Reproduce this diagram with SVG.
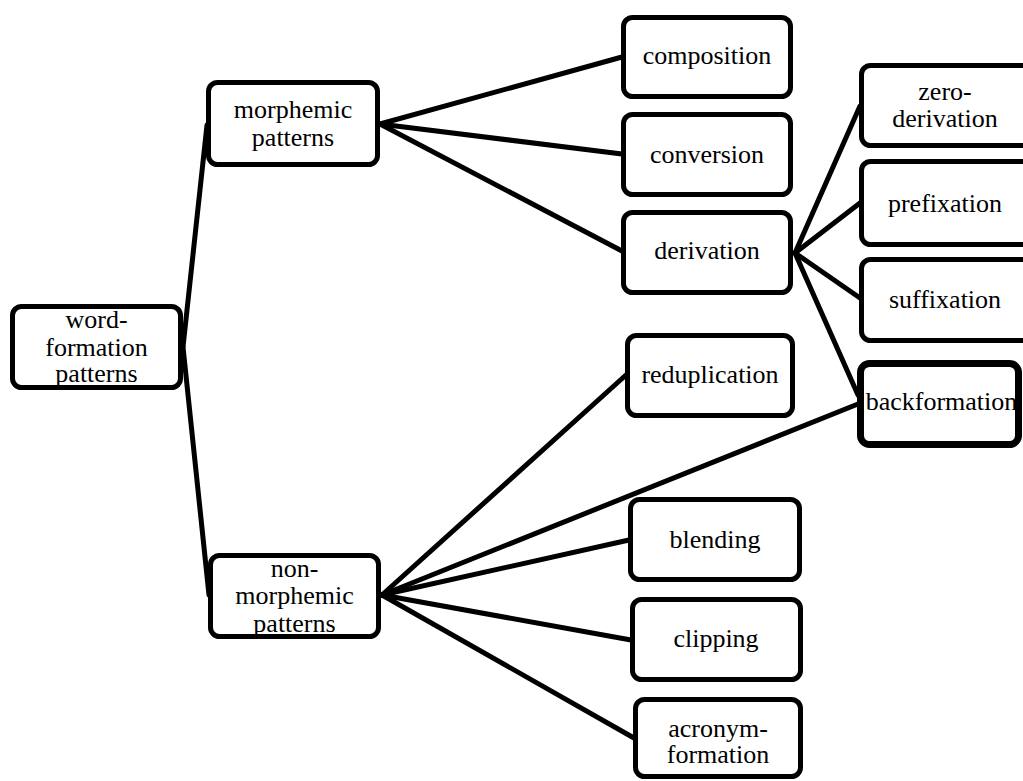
<svg xmlns="http://www.w3.org/2000/svg" width="1023" height="781" viewBox="0 0 1023 781">
<style>
.box{fill:#fff;stroke:#000;stroke-width:5}
.thick{stroke-width:7}
text{font-family:'Liberation Serif','Times New Roman',serif;font-size:26px;fill:#000;text-anchor:middle}
.con line{stroke:#000;stroke-width:5;stroke-linecap:round}
</style>
<rect width="1023" height="781" fill="#fff"/>
<g id="connectors" class="con">
<line x1="183" y1="347" x2="207" y2="125"/>
<line x1="183" y1="347" x2="209" y2="595"/>
<line x1="380" y1="124" x2="622" y2="57"/>
<line x1="380" y1="124" x2="622" y2="154"/>
<line x1="380" y1="124" x2="622" y2="251"/>
<line x1="795" y1="253" x2="860" y2="106"/>
<line x1="795" y1="253" x2="860" y2="203"/>
<line x1="795" y1="253" x2="860" y2="298"/>
<line x1="795" y1="253" x2="858" y2="395"/>
<line x1="382" y1="595" x2="626" y2="375"/>
<line x1="382" y1="595" x2="858" y2="404"/>
<line x1="382" y1="595" x2="629" y2="540"/>
<line x1="382" y1="595" x2="631" y2="640"/>
<line x1="382" y1="595" x2="634" y2="738"/>
</g>
<g id="root"><rect class="box" x="12.5" y="306.5" width="168" height="81" rx="9"/>
<text x="96.5" y="328">word-</text><text x="96.5" y="356">formation</text><text x="96.5" y="382">patterns</text></g>
<g id="morphemic"><rect class="box" x="208.5" y="82.5" width="169" height="82" rx="9"/>
<text x="293" y="118">morphemic</text><text x="293" y="146">patterns</text></g>
<g id="nonmorphemic"><rect class="box" x="210.5" y="555.5" width="168" height="81" rx="9"/>
<text x="294.5" y="577">non-</text><text x="294.5" y="604">morphemic</text><text x="294.5" y="632">patterns</text></g>
<g id="composition"><rect class="box" x="623.5" y="17.5" width="167" height="79" rx="9"/>
<text x="707" y="64">composition</text></g>
<g id="conversion"><rect class="box" x="623.5" y="114.5" width="167" height="80" rx="9"/>
<text x="707" y="163">conversion</text></g>
<g id="derivation"><rect class="box" x="623.5" y="212.5" width="167" height="80" rx="9"/>
<text x="707" y="259">derivation</text></g>
<g id="zeroderivation"><rect class="box" x="861.5" y="65.5" width="170" height="80" rx="9"/>
<text x="945" y="100">zero-</text><text x="945" y="127">derivation</text></g>
<g id="prefixation"><rect class="box" x="861.5" y="161.5" width="170" height="83" rx="9"/>
<text x="945" y="212">prefixation</text></g>
<g id="suffixation"><rect class="box" x="861.5" y="259.5" width="170" height="81" rx="9"/>
<text x="945" y="308">suffixation</text></g>
<g id="backformation"><rect class="box thick" x="860.5" y="363.5" width="158" height="81" rx="9"/>
<text x="941.5" y="410">backformation</text></g>
<g id="reduplication"><rect class="box" x="627.5" y="335.5" width="165" height="80" rx="9"/>
<text x="710" y="383">reduplication</text></g>
<g id="blending"><rect class="box" x="630.5" y="499.5" width="169" height="80" rx="9"/>
<text x="715" y="548">blending</text></g>
<g id="clipping"><rect class="box" x="632.5" y="599.5" width="168" height="80" rx="9"/>
<text x="716" y="647">clipping</text></g>
<g id="acronymformation"><rect class="box" x="635.5" y="699.5" width="165" height="77" rx="9"/>
<text x="718" y="737">acronym-</text><text x="718" y="763">formation</text></g>
</svg>
